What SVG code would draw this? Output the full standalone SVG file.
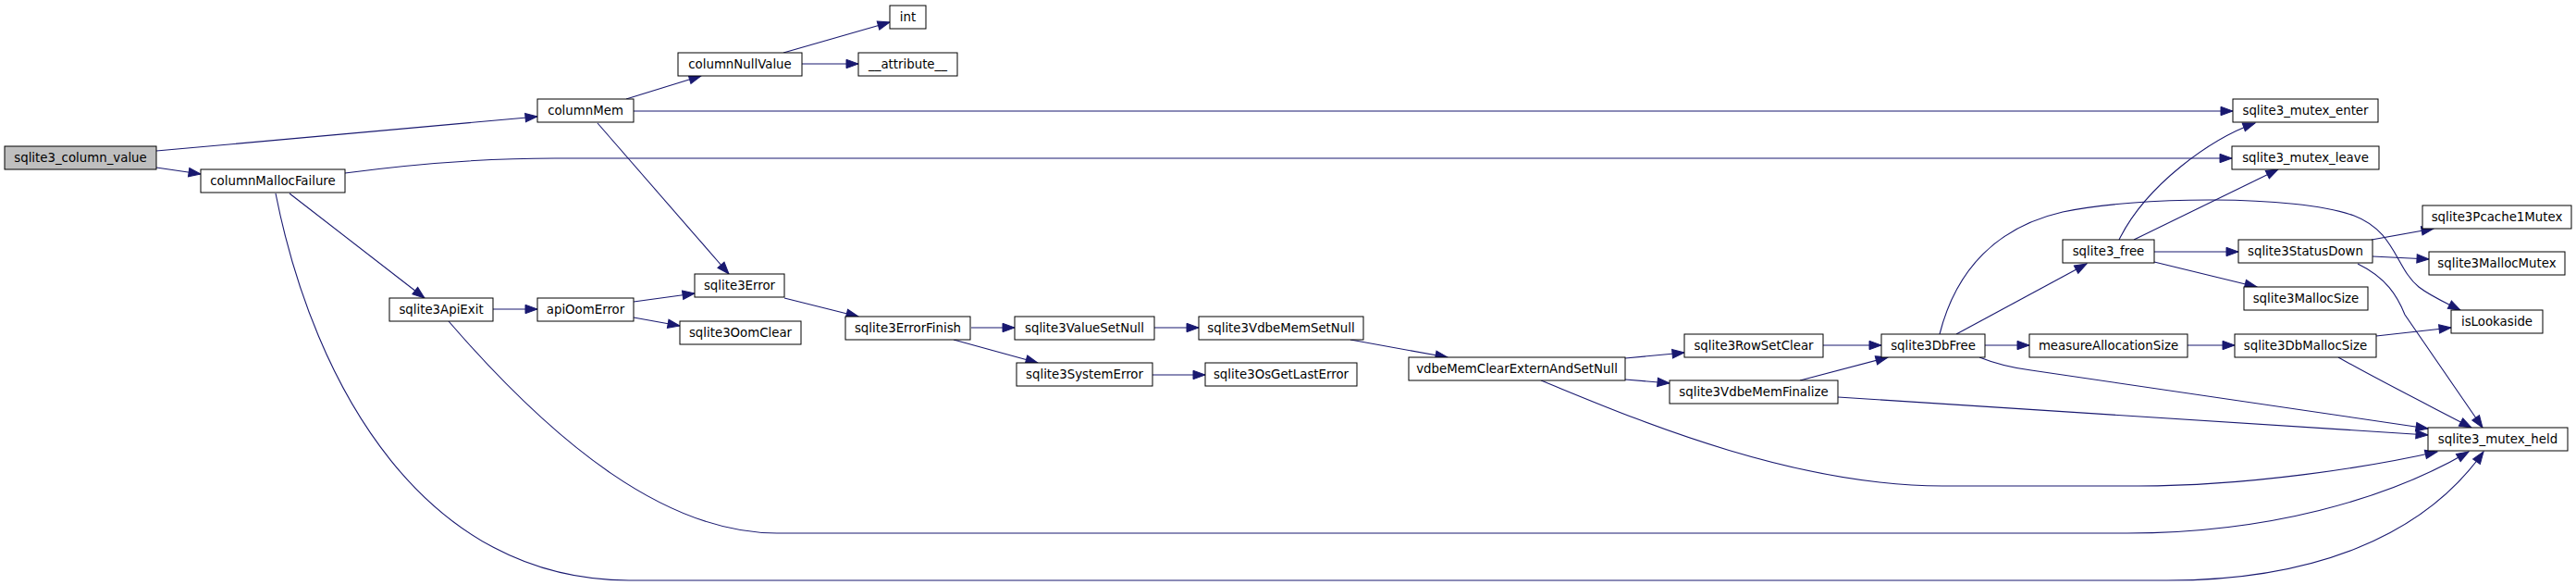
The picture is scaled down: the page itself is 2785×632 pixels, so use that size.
<svg xmlns="http://www.w3.org/2000/svg" width="2785" height="632" viewBox="0 0 2785 632">
<style>
.n rect{fill:#ffffff;stroke:#000000;stroke-width:1}
.n.root rect{fill:#bfbfbf}
.n text{font-family:"DejaVu Sans","Liberation Sans",sans-serif;font-size:13.33px;fill:#000000;text-anchor:middle}
.e path{fill:none;stroke:#191970;stroke-width:1.1;marker-end:url(#arr)}
</style>
<defs>
<marker id="arr" markerWidth="14" markerHeight="10" refX="13" refY="4.7" orient="auto" markerUnits="userSpaceOnUse" overflow="visible">
<path d="M0,0 L13,4.7 L0,9.4 z" fill="#191970" stroke="#191970" stroke-width="1"/>
</marker>
</defs>
<rect width="2785" height="632" fill="#ffffff"/>
<g id="edges" class="e">
<path d="M169,163 L581,126"/>
<path d="M169,181 L217,188"/>
<path d="M677,107 L758,82"/>
<path d="M685,120 L2414,120"/>
<path d="M646,133 L788,296"/>
<path d="M847,57 L962,24"/>
<path d="M867,69 L928,69"/>
<path d="M373,187 C470,174 540,171 600,171 L2413,171"/>
<path d="M313,209 L459,322"/>
<path d="M298,209 C340,420 460,627 680,627 L2343,627 C2500,627 2620,580 2685,488"/>
<path d="M533,334 L581,334"/>
<path d="M485,347 C600,480 720,576 840,576 L2300,576 C2450,576 2580,540 2669,488"/>
<path d="M685,326 L751,317"/>
<path d="M685,343 L735,352"/>
<path d="M848,322 L928,342"/>
<path d="M1050,354 L1097,354"/>
<path d="M1031,367 L1122,392"/>
<path d="M1248,354 L1296,354"/>
<path d="M1246,405 L1303,405"/>
<path d="M1460,367 L1565,386"/>
<path d="M1757,387 L1821,381"/>
<path d="M1757,410 L1805,414"/>
<path d="M1666,411 C1750,445 1930,525 2100,525 L2312,525 C2430,525 2560,505 2635,488"/>
<path d="M1971,373 L2034,373"/>
<path d="M1946,411 L2041,386"/>
<path d="M1987,429 L2625,470"/>
<path d="M2115,361 L2256,285"/>
<path d="M2146,373 L2194,373"/>
<path d="M2097,361 C2115,290 2160,245 2230,229 C2310,212 2480,210 2545,233 C2590,250 2590,290 2615,310 C2628,320 2640,325 2660,335"/>
<path d="M2140,386 C2160,394 2180,398 2196,400 L2625,463"/>
<path d="M2365,373 L2416,373"/>
<path d="M2569,363 L2650,354"/>
<path d="M2528,386 C2570,410 2630,440 2672,462"/>
<path d="M2291,259 C2320,200 2390,150 2438,133"/>
<path d="M2307,259 L2463,183"/>
<path d="M2329,272 L2420,272"/>
<path d="M2329,283 L2440,310"/>
<path d="M2564,259 L2631,247"/>
<path d="M2565,277 L2626,280"/>
<path d="M2549,285 C2580,300 2592,320 2600,340 L2684,462"/>
</g>
<g id="n_sqlite3_column_value" class="n root"><rect x="5" y="158" width="164" height="25"/><text x="87" y="175">sqlite3_column_value</text></g>
<g id="n_columnMallocFailure" class="n"><rect x="217" y="183" width="156" height="25"/><text x="295" y="200">columnMallocFailure</text></g>
<g id="n_columnMem" class="n"><rect x="581" y="107" width="104" height="25"/><text x="633" y="124">columnMem</text></g>
<g id="n_columnNullValue" class="n"><rect x="733" y="57" width="134" height="25"/><text x="800" y="74">columnNullValue</text></g>
<g id="n_int" class="n"><rect x="962" y="6" width="39" height="25"/><text x="981.5" y="23">int</text></g>
<g id="n_attribute" class="n"><rect x="928" y="57" width="107" height="25"/><text x="981.5" y="74">__attribute__</text></g>
<g id="n_sqlite3Error" class="n"><rect x="751" y="296" width="97" height="25"/><text x="799.5" y="313">sqlite3Error</text></g>
<g id="n_sqlite3ApiExit" class="n"><rect x="421" y="322" width="112" height="25"/><text x="477" y="339">sqlite3ApiExit</text></g>
<g id="n_apiOomError" class="n"><rect x="581" y="322" width="104" height="25"/><text x="633" y="339">apiOomError</text></g>
<g id="n_sqlite3OomClear" class="n"><rect x="735" y="347" width="131" height="25"/><text x="800.5" y="364">sqlite3OomClear</text></g>
<g id="n_sqlite3ErrorFinish" class="n"><rect x="914" y="342" width="135" height="25"/><text x="981.5" y="359">sqlite3ErrorFinish</text></g>
<g id="n_sqlite3ValueSetNull" class="n"><rect x="1097" y="342" width="151" height="25"/><text x="1172.5" y="359">sqlite3ValueSetNull</text></g>
<g id="n_sqlite3VdbeMemSetNull" class="n"><rect x="1296" y="342" width="178" height="25"/><text x="1385" y="359">sqlite3VdbeMemSetNull</text></g>
<g id="n_sqlite3SystemError" class="n"><rect x="1099" y="392" width="147" height="25"/><text x="1172.5" y="409">sqlite3SystemError</text></g>
<g id="n_sqlite3OsGetLastError" class="n"><rect x="1303" y="392" width="164" height="25"/><text x="1385" y="409">sqlite3OsGetLastError</text></g>
<g id="n_vdbeMemClearExternAndSetNull" class="n"><rect x="1523" y="386" width="234" height="25"/><text x="1640" y="403">vdbeMemClearExternAndSetNull</text></g>
<g id="n_sqlite3RowSetClear" class="n"><rect x="1821" y="361" width="150" height="25"/><text x="1896" y="378">sqlite3RowSetClear</text></g>
<g id="n_sqlite3VdbeMemFinalize" class="n"><rect x="1805" y="411" width="182" height="25"/><text x="1896" y="428">sqlite3VdbeMemFinalize</text></g>
<g id="n_sqlite3DbFree" class="n"><rect x="2034" y="361" width="112" height="25"/><text x="2090" y="378">sqlite3DbFree</text></g>
<g id="n_measureAllocationSize" class="n"><rect x="2194" y="361" width="171" height="25"/><text x="2279.5" y="378">measureAllocationSize</text></g>
<g id="n_sqlite3DbMallocSize" class="n"><rect x="2416" y="361" width="153" height="25"/><text x="2492.5" y="378">sqlite3DbMallocSize</text></g>
<g id="n_sqlite3_free" class="n"><rect x="2230" y="259" width="99" height="25"/><text x="2279.5" y="276">sqlite3_free</text></g>
<g id="n_sqlite3StatusDown" class="n"><rect x="2420" y="259" width="145" height="25"/><text x="2492.5" y="276">sqlite3StatusDown</text></g>
<g id="n_sqlite3MallocSize" class="n"><rect x="2426" y="310" width="134" height="25"/><text x="2493" y="327">sqlite3MallocSize</text></g>
<g id="n_sqlite3_mutex_enter" class="n"><rect x="2414" y="107" width="157" height="25"/><text x="2492.5" y="124">sqlite3_mutex_enter</text></g>
<g id="n_sqlite3_mutex_leave" class="n"><rect x="2413" y="158" width="159" height="25"/><text x="2492.5" y="175">sqlite3_mutex_leave</text></g>
<g id="n_sqlite3Pcache1Mutex" class="n"><rect x="2619" y="222" width="161" height="25"/><text x="2699.5" y="239">sqlite3Pcache1Mutex</text></g>
<g id="n_sqlite3MallocMutex" class="n"><rect x="2626" y="272" width="147" height="25"/><text x="2699.5" y="289">sqlite3MallocMutex</text></g>
<g id="n_isLookaside" class="n"><rect x="2650" y="335" width="99" height="25"/><text x="2699.5" y="352">isLookaside</text></g>
<g id="n_sqlite3_mutex_held" class="n"><rect x="2625" y="462" width="151" height="25"/><text x="2700.5" y="479">sqlite3_mutex_held</text></g>
</svg>
